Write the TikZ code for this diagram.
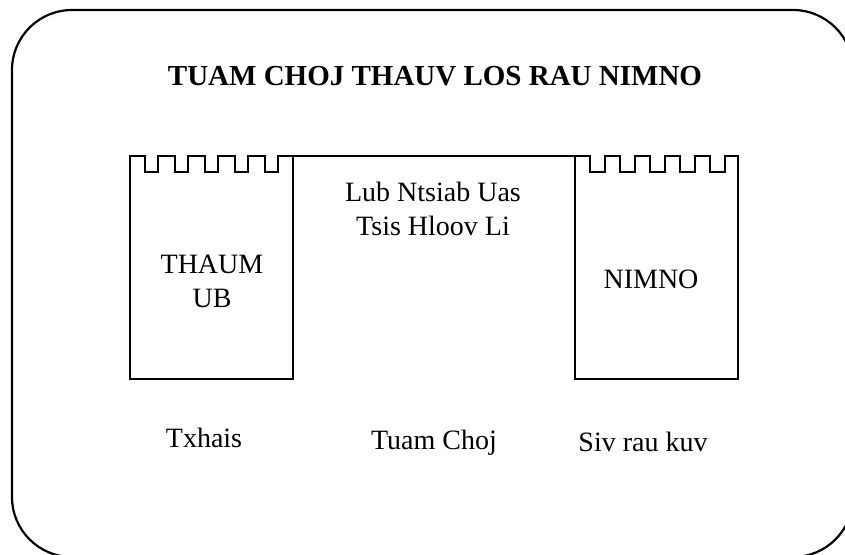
\documentclass[tikz,border=0pt]{standalone}
\usepackage{fontspec}
\setmainfont{Liberation Serif}
\usetikzlibrary{positioning}

\tikzset{lbl/.style={font=\fontsize{28}{34}\selectfont, inner sep=0pt, anchor=base, align=center}}

\begin{document}
\begin{tikzpicture}[x=1pt,y=-1pt,line width=2.2pt]
			\useasboundingbox (0,0) rectangle (845,554);
			\clip (0,0) rectangle (845,554);
			\draw[rounded corners=60pt] (12,10) rectangle (853,557);
			\begin{scope}
				% left tower
				\draw (130,379) -- (130,156) foreach \x in {145,175,...,265} {-- (\x,156) -- (\x,172) -- (\x+13,172) -- (\x+13,156)} -- (293,156) -- (293,379) -- cycle;
				% right tower
				\draw (575,379) -- (575,156) foreach \x in {590,620,...,710} {-- (\x,156) -- (\x,172) -- (\x+15,172) -- (\x+15,156)} -- (738,156) -- (738,379) -- cycle;
				\draw (293,156) -- (575,156);
			\end{scope}
			\node[lbl, font=\fontsize{29}{35}\selectfont\bfseries] (title) at (435,85) {TUAM CHOJ THAUV LOS RAU NIMNO};
			\node[lbl] (left) at (212,307) {THAUM\\UB};
			\node[lbl] (mid) at (433,235) {Lub Ntsiab Uas\\Tsis Hloov Li};
			\node[lbl] (right) at (651,288) {NIMNO};
			\node[lbl] (lab1) at (204,447) {Txhais};
			\node[lbl] (lab2) at (434,449) {Tuam Choj};
			\node[lbl] (lab3) at (643,451) {Siv rau kuv};
		\end{tikzpicture}
\end{document}
